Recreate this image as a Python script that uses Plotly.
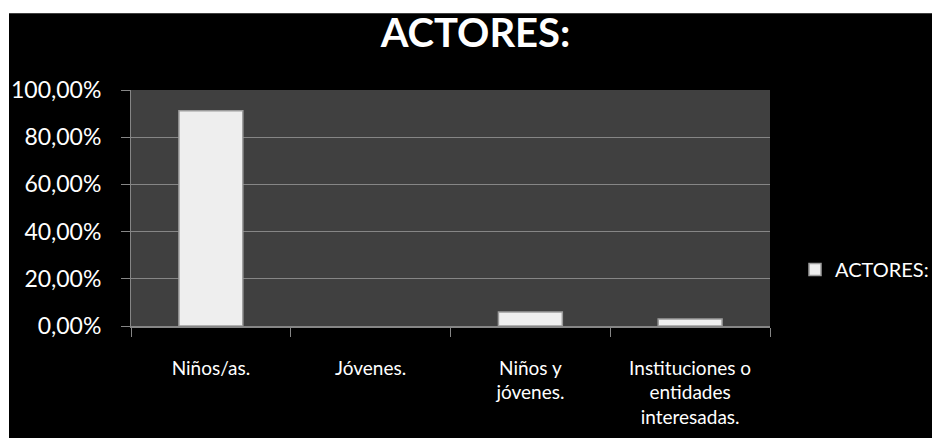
import plotly.graph_objects as go

# Data
categories = ["Niños/as.", "Jóvenes.", "Niños y<br>jóvenes.", "Instituciones o<br>entidades<br>interesadas."]
values = [0.9118, 0.0, 0.0588, 0.0294]
series_name = "ACTORES:"
title_text = "ACTORES:"

FONT = "Lato, 'Open Sans', sans-serif"

# plot area in figure pixels (page is offset by the 8px body margin)
W, H = 940, 438
ML, MT = 123, 82
PLOT_W, PLOT_H = 639, 236.5
PAPER_W = W - ML

fig = go.Figure()

fig.add_trace(go.Bar(
    x=categories,
    y=values,
    name=series_name,
    width=0.4,
    marker=dict(
        color="#eeeeee",
        line=dict(color="#9c9c9c", width=[1.5 if v > 0 else 0 for v in values]),
    ),
    showlegend=True,
))

# white page edges visible in the screenshot (top band, left strip)
fig.add_shape(type="rect", xref="paper", yref="paper", x0=-0.3, x1=1.2, y0=1.3256, y1=1.6,
              fillcolor="white", line_width=0, layer="below")
fig.add_shape(type="rect", xref="paper", yref="paper", x0=-0.3, x1=-1 / PAPER_W * (ML - 1), y0=-0.6, y1=1.6,
              fillcolor="white", line_width=0, layer="below")

fig.update_layout(
    width=W,
    height=H,
    margin=dict(l=ML, r=0, t=MT, b=H - MT - PLOT_H),
    paper_bgcolor="black",
    plot_bgcolor="#404040",
    separators=", ",
    font=dict(family=FONT, color="white", size=21),
    title=dict(
        text="<b>" + title_text + "</b>",
        x=(ML + PLOT_W / 2 + 25) / W, xanchor="center",
        y=0.943, yref="container", yanchor="middle",
        font=dict(family=FONT, size=40, color="white"),
    ),
    bargap=0.6,
    showlegend=True,
    legend=dict(
        x=(787 - ML) / PAPER_W, xanchor="left",
        y=0.239, yanchor="middle",
        bgcolor="rgba(0,0,0,0)",
        borderwidth=0,
        font=dict(family=FONT, size=20, color="white"),
        itemwidth=30,
    ),
)

fig.update_yaxes(
    range=[0, 1],
    dtick=0.2,
    tickformat=".2%",
    automargin=False,
    showgrid=True,
    gridcolor="#868686",
    gridwidth=1,
    showline=True,
    linecolor="#868686",
    ticks="outside",
    ticklen=9,
    tickcolor="#868686",
    ticklabelstandoff=15,
    zeroline=False,
    tickfont=dict(family=FONT, size=23, color="white"),
)

fig.update_xaxes(
    domain=[0, PLOT_W / PAPER_W],
    automargin=False,
    showline=True,
    linecolor="#868686",
    linewidth=1.5,
    ticks="outside",
    tickson="boundaries",
    ticklen=9,
    tickcolor="#868686",
    ticklabelstandoff=24,
    showgrid=False,
    tickfont=dict(family=FONT, size=19, color="white"),
)

fig.write_html("out.html")
